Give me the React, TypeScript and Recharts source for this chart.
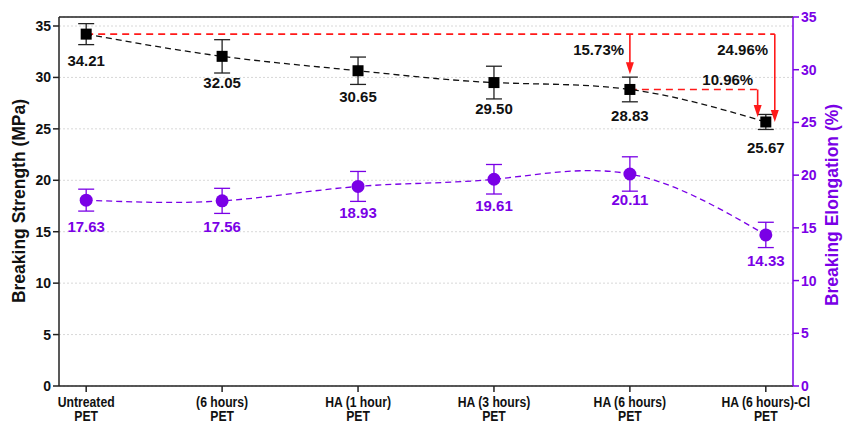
import { LineChart, Line, XAxis, YAxis, CartesianGrid, ErrorBar, LabelList, ReferenceLine, ReferenceDot } from "recharts";

const categoriesTop = ["Untreated", "(6 hours)", "HA (1 hour)", "HA (3 hours)", "HA (6 hours)", "HA (6 hours)-Cl"];
const categoriesBottom = ["PET", "PET", "PET", "PET", "PET", "PET"];
const strength = [34.21, 32.05, 30.65, 29.5, 28.83, 25.67];
const strengthErr = [1.02, 1.62, 1.33, 1.59, 1.2, 0.73];
const elongation = [17.63, 17.56, 18.93, 19.61, 20.11, 14.33];
const elongationErr = [1.04, 1.19, 1.42, 1.4, 1.63, 1.2];
const leftTicks = [0, 5, 10, 15, 20, 25, 30, 35];
const rightTicks = [0, 5, 10, 15, 20, 25, 30, 35];

// red annotation guides, in data units (x index, left axis value)
const dashedGuides = [
  { x1: 0, x2: 5.066, y: 34.21 },
  { x1: 4, x2: 4.94, y: 28.83 },
];
const arrows = [
  { x: 4, from: 34.21, to: 30.3 },
  { x: 5.066, from: 34.21, to: 25.67 },
  { x: 4.94, from: 28.83, to: 26.15 },
];
const notes = [
  { x: 3.77, y: 32.67, text: "15.73%" },
  { x: 4.83, y: 32.76, text: "24.96%" },
  { x: 4.72, y: 29.84, text: "10.96%" },
];

const PURPLE = "#7a00e6";
const RED = "#ff1a1a";
const FONT = "'Liberation Sans', Arial, sans-serif";

const data = categoriesTop.map((c, i) => ({
  x: i,
  name: c,
  strength: strength[i],
  strengthErr: strengthErr[i],
  elongation: elongation[i],
  elongationErr: elongationErr[i],
}));

const XTick = (props: any) => {
  const { x, y, payload } = props;
  const i = payload.value;
  return (
    <g transform={`translate(${x},${y}) scale(0.87,1)`}>
      <text x={0} y={12.5} textAnchor="middle" fontFamily={FONT} fontWeight="bold" fontSize={14} fill="#111">
        {categoriesTop[i]}
      </text>
      <text x={0} y={27} textAnchor="middle" fontFamily={FONT} fontWeight="bold" fontSize={14} fill="#111">
        {categoriesBottom[i]}
      </text>
    </g>
  );
};

const squareDot = (props: any) => {
  const { cx, cy, index } = props;
  return <rect key={"sq" + index} x={cx - 5.5} y={cy - 5.5} width={11} height={11} fill="#000" />;
};

const circleDot = (props: any) => {
  const { cx, cy, index } = props;
  return <circle key={"ci" + index} cx={cx} cy={cy} r={6.5} fill={PURPLE} />;
};

const valueLabel = (color: string) => (props: any) => {
  const { x, y, value, index } = props;
  return (
    <text key={"lb" + index} x={x} y={y + 26} textAnchor="middle" dominantBaseline="central" fontFamily={FONT} fontWeight="bold" fontSize={15} fill={color}>
      {Number(value).toFixed(2)}
    </text>
  );
};

const arrowShape = (props: any) => {
  const { x1, y1, x2, y2 } = props;
  return (
    <g>
      <line x1={x1} y1={y1} x2={x2} y2={y2 - 10} stroke={RED} strokeWidth={1.6} />
      <polygon points={`${x2 - 4},${y2 - 12} ${x2 + 4},${y2 - 12} ${x2},${y2}`} fill={RED} />
    </g>
  );
};

const noteShape = (text: string) => (props: any) => {
  const { cx, cy } = props;
  return (
    <text x={cx} y={cy} textAnchor="middle" dominantBaseline="central" fontFamily={FONT} fontWeight="bold" fontSize={15} fill="#111">
      {text}
    </text>
  );
};

const leftTitle = () => (
  <text transform="translate(19,201) rotate(-90)" textAnchor="middle" dominantBaseline="central" fontFamily={FONT} fontWeight="bold" fontSize={17.5} fill="#111">
    Breaking Strength (MPa)
  </text>
);

const rightTitle = () => (
  <text transform="translate(832,205) rotate(-90)" textAnchor="middle" dominantBaseline="central" fontFamily={FONT} fontWeight="bold" fontSize={17.5} fill={PURPLE}>
    Breaking Elongation (%)
  </text>
);

export default function App() {
  return (
    <div style={{ width: 843, height: 424, background: "#fff" }}>
      <style>{"body{margin:0}"}</style>
      <LineChart width={843} height={424} data={data} margin={{ top: 17, right: 0, bottom: 0, left: 0 }}>
        <CartesianGrid yAxisId="left" vertical={false} stroke="#d8d8d8" strokeDasharray="2 2" />
        <XAxis
          dataKey="x"
          type="number"
          domain={[-0.2, 5.2]}
          ticks={[0, 1, 2, 3, 4, 5]}
          height={38}
          tick={<XTick />}
          tickSize={6}
          stroke="#222"
          strokeWidth={1.5}
        />
        <YAxis
          yAxisId="left"
          domain={[0, 35.875]}
          ticks={leftTicks}
          width={59}
          tickSize={6}
          stroke="#222"
          strokeWidth={1.5}
          tick={{ fill: "#111", fontSize: 14, fontWeight: "bold", fontFamily: FONT }}
          label={{ content: leftTitle }}
        />
        <YAxis
          yAxisId="right"
          orientation="right"
          domain={[0, 35]}
          ticks={rightTicks}
          width={50}
          tickSize={6}
          stroke={PURPLE}
          strokeWidth={1.5}
          tick={{ fill: PURPLE, fontSize: 14, fontWeight: "bold", fontFamily: FONT }}
          label={{ content: rightTitle }}
        />
        <ReferenceLine yAxisId="left" y={35.875} stroke="#222" strokeWidth={1.5} />
        {dashedGuides.map((g, i) => (
          <ReferenceLine
            key={"g" + i}
            yAxisId="left"
            segment={[{ x: g.x1, y: g.y }, { x: g.x2, y: g.y }]}
            stroke={RED}
            strokeWidth={1.6}
            strokeDasharray="7 5"
          />
        ))}
        <Line
          yAxisId="left"
          type="natural"
          dataKey="strength"
          stroke="#111"
          strokeWidth={1.3}
          strokeDasharray="6 4"
          dot={squareDot}
          activeDot={false}
          isAnimationActive={false}
        >
          <ErrorBar dataKey="strengthErr" direction="y" width={8} stroke="#222" strokeWidth={1.3} />
          <LabelList dataKey="strength" content={valueLabel("#111")} />
        </Line>
        <Line
          yAxisId="right"
          type="natural"
          dataKey="elongation"
          stroke={PURPLE}
          strokeWidth={1.3}
          strokeDasharray="6 4"
          dot={circleDot}
          activeDot={false}
          isAnimationActive={false}
        >
          <ErrorBar dataKey="elongationErr" direction="y" width={8} stroke={PURPLE} strokeWidth={1.3} />
          <LabelList dataKey="elongation" content={valueLabel(PURPLE)} />
        </Line>
        {arrows.map((a, i) => (
          <ReferenceLine
            key={"a" + i}
            yAxisId="left"
            segment={[{ x: a.x, y: a.from }, { x: a.x, y: a.to }]}
            shape={arrowShape}
          />
        ))}
        {notes.map((n, i) => (
          <ReferenceDot key={"n" + i} yAxisId="left" x={n.x} y={n.y} r={1} shape={noteShape(n.text)} />
        ))}
      </LineChart>
    </div>
  );
}
